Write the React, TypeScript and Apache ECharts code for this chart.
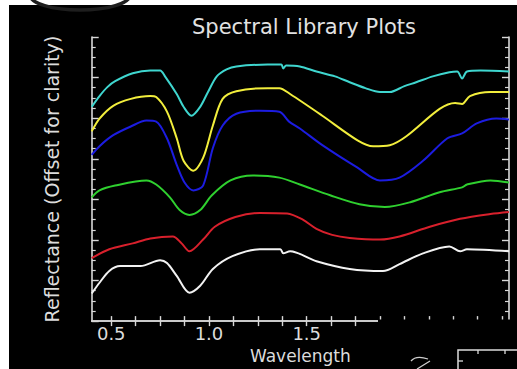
import React, { useEffect, useRef } from "react";
import * as echarts from "echarts";

// Wavelength (µm) / reflectance (offset) pairs
const cyan: [number, number][] = [
  [0.40, 1.056], [0.44, 1.109], [0.48, 1.153], [0.52, 1.182], [0.61, 1.221], [0.70, 1.235],
  [0.75, 1.235], [0.775, 1.206], [0.835, 1.119], [0.87, 1.056], [0.91, 1.012], [0.955, 1.056],
  [0.995, 1.129], [1.04, 1.206], [1.09, 1.24], [1.14, 1.255], [1.30, 1.264], [1.37, 1.264],
  [1.38, 1.245], [1.395, 1.26], [1.465, 1.255], [1.55, 1.23], [1.645, 1.206], [1.72, 1.177],
  [1.80, 1.148], [1.875, 1.129], [1.925, 1.129], [2.00, 1.158], [2.06, 1.177], [2.145, 1.206],
  [2.23, 1.226], [2.27, 1.23], [2.295, 1.196], [2.32, 1.23], [2.39, 1.235], [2.535, 1.23],
];
const yellow: [number, number][] = [
  [0.40, 0.935], [0.44, 0.998], [0.51, 1.061], [0.60, 1.095], [0.70, 1.109], [0.73, 1.104],
  [0.785, 1.032], [0.835, 0.901], [0.87, 0.79], [0.92, 0.741], [0.97, 0.804], [1.02, 0.964],
  [1.07, 1.095], [1.14, 1.133], [1.30, 1.148], [1.36, 1.148], [1.415, 1.119], [1.58, 1.012],
  [1.76, 0.891], [1.84, 0.862], [1.925, 0.867], [2.01, 0.911], [2.18, 1.046], [2.26, 1.075],
  [2.295, 1.07], [2.335, 1.109], [2.44, 1.129], [2.535, 1.129],
];
const blue: [number, number][] = [
  [0.40, 0.819], [0.44, 0.862], [0.51, 0.916], [0.60, 0.959], [0.68, 0.988], [0.73, 0.983],
  [0.785, 0.901], [0.835, 0.77], [0.875, 0.683], [0.92, 0.644], [0.97, 0.668], [1.02, 0.853],
  [1.07, 0.964], [1.14, 1.022], [1.26, 1.037], [1.36, 1.032], [1.41, 0.983], [1.465, 0.949],
  [1.58, 0.867], [1.76, 0.756], [1.875, 0.693], [1.975, 0.707], [2.095, 0.79], [2.22, 0.901],
  [2.295, 0.925], [2.37, 0.974], [2.47, 0.998], [2.535, 0.993],
];
const green: [number, number][] = [
  [0.40, 0.61], [0.44, 0.644], [0.52, 0.668], [0.68, 0.693], [0.73, 0.673], [0.80, 0.61],
  [0.85, 0.547], [0.90, 0.523], [0.955, 0.547], [1.015, 0.62], [1.11, 0.693], [1.225, 0.717],
  [1.36, 0.707], [1.465, 0.673], [1.62, 0.62], [1.77, 0.576], [1.90, 0.562], [2.03, 0.586],
  [2.18, 0.635], [2.295, 0.659], [2.32, 0.673], [2.44, 0.693], [2.535, 0.683],
];
const red: [number, number][] = [
  [0.40, 0.31], [0.49, 0.354], [0.61, 0.383], [0.70, 0.407], [0.815, 0.417], [0.86, 0.383],
  [0.90, 0.344], [0.97, 0.402], [1.03, 0.465], [1.135, 0.513], [1.26, 0.533], [1.40, 0.53],
  [1.48, 0.50], [1.55, 0.455], [1.63, 0.425], [1.72, 0.41], [1.875, 0.402], [1.975, 0.417],
  [2.13, 0.465], [2.285, 0.504], [2.44, 0.528], [2.535, 0.538],
];
const white: [number, number][] = [
  [0.40, 0.136], [0.44, 0.189], [0.49, 0.247], [0.545, 0.271], [0.65, 0.271], [0.75, 0.30],
  [0.785, 0.286], [0.835, 0.223], [0.90, 0.14], [0.955, 0.174], [1.02, 0.257], [1.12, 0.32],
  [1.26, 0.354], [1.365, 0.354], [1.38, 0.334], [1.415, 0.344], [1.55, 0.295], [1.72, 0.257],
  [1.89, 0.247], [1.975, 0.281], [2.095, 0.334], [2.23, 0.368], [2.285, 0.344], [2.32, 0.354],
  [2.535, 0.344],
];

const seriesList = [
  { name: "cyan", data: cyan, color: "#3fd6cf" },
  { name: "yellow", data: yellow, color: "#f2ee3c" },
  { name: "blue", data: blue, color: "#1c1ce0" },
  { name: "green", data: green, color: "#2fd02f" },
  { name: "red", data: red, color: "#d8202c" },
  { name: "white", data: white, color: "#f2f2f2" },
];

const xTickValues = [0.5, 0.625, 0.75, 0.875, 1.0, 1.125, 1.25, 1.375, 1.5, 1.625, 1.75, 1.875, 2.0, 2.125, 2.25, 2.375, 2.5];
const xLabelValues = [0.5, 1.0, 1.5];

const AX = "#d8d8d8";
const FONT = "DejaVu Sans";

export default function App() {
  const ref = useRef<HTMLDivElement>(null);
  useEffect(() => {
    if (!ref.current) return;
    const chart = echarts.init(ref.current, null, { renderer: "svg" });
    const xBase = {
      type: "value" as const,
      min: 0.4,
      max: 2.535,
      splitLine: { show: false },
      axisLine: { show: true, lineStyle: { color: AX, width: 1.6 } },
    };
    const yBase = {
      type: "value" as const,
      min: 0,
      max: 1.4,
      interval: 0.2,
      splitLine: { show: false },
      axisLabel: { show: false },
      axisLine: { show: true, lineStyle: { color: AX, width: 1.6 } },
      axisTick: { show: true, inside: true, length: 7, lineStyle: { color: AX, width: 1.4 } },
      minorTick: { show: true, splitNumber: 4, length: 4, lineStyle: { color: AX, width: 1.2 } },
    };
    chart.setOption({
      animation: false,
      backgroundColor: "#000",
      title: {
        text: "Spectral Library Plots",
        left: 187,
        top: 11,
        textStyle: { color: "#e2e2e2", fontFamily: FONT, fontSize: 21, fontWeight: "normal" },
      },
      grid: { left: 91.7, top: 37, right: 8, bottom: 43 },
      xAxis: [
        {
          ...xBase,
          position: "bottom",
          axisTick: { show: true, inside: true, length: 5, customValues: xTickValues, lineStyle: { color: AX, width: 1.4 } },
          axisLabel: {
            show: true,
            customValues: xLabelValues,
            formatter: (v: number) => v.toFixed(1),
            color: "#dcdcdc",
            fontFamily: FONT,
            fontSize: 18,
            margin: 3,
          },
          name: "Wavelength",
          nameLocation: "middle",
          nameGap: 17,
          nameTextStyle: { color: "#dcdcdc", fontFamily: FONT, fontSize: 17 },
        },
        {
          ...xBase,
          position: "top",
          axisTick: { show: true, inside: true, length: 5, customValues: xTickValues, lineStyle: { color: AX, width: 1.4 } },
          axisLabel: { show: false },
        },
      ],
      yAxis: [
        {
          ...yBase,
          position: "left",
          name: "Reflectance (Offset for clarity)",
          nameLocation: "middle",
          nameGap: 30,
          nameTextStyle: { color: "#dcdcdc", fontFamily: FONT, fontSize: 19 },
        },
        { ...yBase, position: "right" },
      ],
      series: seriesList.map((s) => ({
        name: s.name,
        type: "line",
        data: s.data,
        xAxisIndex: 0,
        yAxisIndex: 0,
        showSymbol: false,
        smooth: 0.3,
        lineStyle: { color: s.color, width: 2 },
        itemStyle: { color: s.color },
      })),
      graphic: [
        { type: "rect", z: 100, shape: { x: 0, y: 0, width: 517, height: 5 }, style: { fill: "#fff" } },
        { type: "rect", z: 100, shape: { x: 0, y: 0, width: 9, height: 369 }, style: { fill: "#fff" } },
        { type: "ellipse", z: 101, shape: { cx: 80, cy: -5, rx: 50, ry: 15 }, style: { fill: "none", stroke: "#1e1e1e", lineWidth: 3.5 } },
        { type: "rect", z: 100, shape: { x: 378, y: 319.5, width: 139, height: 50 }, style: { fill: "#000" } },
        { type: "polyline", z: 101, shape: { points: [[517, 350], [458, 350], [458, 369]] }, style: { fill: "none", stroke: "#dcdcdc", lineWidth: 1.5 } },
        { type: "line", z: 101, shape: { x1: 478, y1: 350, x2: 478, y2: 354 }, style: { stroke: "#dcdcdc", lineWidth: 1.3 } },
        { type: "line", z: 101, shape: { x1: 505, y1: 350, x2: 505, y2: 354 }, style: { stroke: "#dcdcdc", lineWidth: 1.3 } },
        { type: "line", z: 101, shape: { x1: 458, y1: 361, x2: 463, y2: 361 }, style: { stroke: "#dcdcdc", lineWidth: 1.3 } },
        { type: "bezierCurve", z: 101, shape: { x1: 411, y1: 361, cpx1: 416, cpy1: 355, x2: 428, y2: 359 }, style: { fill: "none", stroke: "#cfcfcf", lineWidth: 1.3 } },
        { type: "line", z: 101, shape: { x1: 417, y1: 369, x2: 430, y2: 361 }, style: { stroke: "#cfcfcf", lineWidth: 1.3 } },
      ],
    });
    return () => chart.dispose();
  }, []);
  return <div ref={ref} style={{ position: "fixed", left: 0, top: 0, width: 517, height: 369 }} />;
}
